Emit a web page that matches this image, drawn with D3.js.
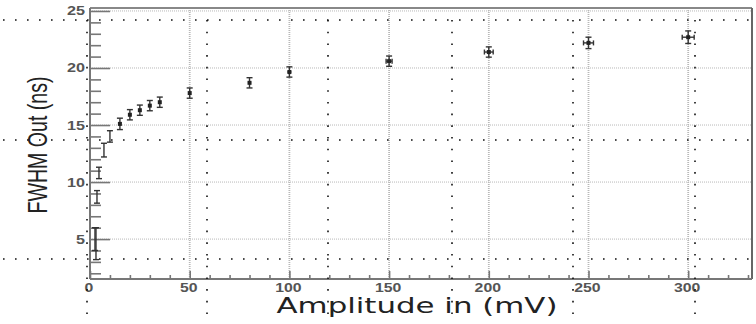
<!DOCTYPE html>
<html>
<head>
<meta charset="utf-8">
<script src="https://cdn.jsdelivr.net/npm/d3@7"></script>
<style>
  html, body { margin: 0; padding: 0; background: #fff; }
  svg { display: block; }
</style>
</head>
<body>
<svg id="chart" width="756" height="324"></svg>
<script>
// FWHM of the output pulse versus input amplitude
const amplitude  = [2.5, 3, 3.5, 4.5, 7, 10, 15, 20, 25, 30, 35, 50, 80, 100, 150, 200, 250, 300];
const fwhm       = [5.0, 4.6, 8.7, 10.8, 12.8, 14.0, 15.1, 15.9, 16.3, 16.7, 17.0, 17.8, 18.7, 19.65, 20.6, 21.4, 22.2, 22.7];
const fwhmErr    = [1.0, 1.4, 0.55, 0.5, 0.6, 0.5, 0.5, 0.45, 0.45, 0.45, 0.45, 0.45, 0.45, 0.45, 0.45, 0.45, 0.5, 0.55];
const amplitudeErr = [0, 0, 0, 0, 0, 0, 0, 0, 0, 0, 0, 0.5, 0.8, 1, 1.5, 2.2, 2.5, 3];
const xMajorTicks = [0, 50, 100, 150, 200, 250, 300];
const yMajorTicks = [5, 10, 15, 20, 25];
const xTitle = "Amplitude in (mV)";
const yTitle = "FWHM Out (ns)";

const svg = d3.select("#chart");
const W = 756, H = 324;

const x = d3.scaleLinear().domain([0, 332]).range([90, 752]);
const y = d3.scaleLinear().domain([1.5, 25.26]).range([279, 8]);

const [x0, x1] = x.range();
const [y0, y1] = y.range();

svg.append("rect").attr("width", W).attr("height", H).attr("fill", "#fff");

// dotted grid at the major ticks
const grid = svg.append("g");
grid.selectAll("line.gx").data(xMajorTicks.filter(d => d > 0)).join("line")
  .attr("class", "gx")
  .attr("x1", d => x(d)).attr("x2", d => x(d))
  .attr("y1", y0).attr("y2", y1)
  .attr("stroke", "#b8b8b8").attr("stroke-width", 1.8)
  .attr("stroke-dasharray", "1 1");
grid.selectAll("line.gy").data(yMajorTicks).join("line")
  .attr("class", "gy")
  .attr("x1", x0).attr("x2", x1)
  .attr("y1", d => y(d)).attr("y2", d => y(d))
  .attr("stroke", "#b8b8b8").attr("stroke-width", 1)
  .attr("stroke-dasharray", "1 1");

// axes: ROOT-style inward ticks drawn with d3 axis generators
const yMinor = d3.range(2, 26).filter(v => v % 5 !== 0);
const xMinor = d3.range(10, 331, 10).filter(v => v % 50 !== 0);

const axisG = svg.append("g");
axisG.append("g").attr("transform", `translate(${x0},0)`)
  .call(d3.axisRight(y).tickValues(yMinor).tickSize(11).tickFormat(""))
  .call(g => g.select(".domain").remove())
  .call(g => g.selectAll("line").attr("stroke", "#777").attr("stroke-width", 1.6));
axisG.append("g").attr("transform", `translate(${x0},0)`)
  .call(d3.axisRight(y).tickValues(yMajorTicks).tickSize(20).tickFormat(""))
  .call(g => g.select(".domain").remove())
  .call(g => g.selectAll("line").attr("stroke", "#777").attr("stroke-width", 1.6));
axisG.append("g").attr("transform", `translate(0,${y0})`)
  .call(d3.axisTop(x).tickValues(xMinor).tickSize(4).tickFormat(""))
  .call(g => g.select(".domain").remove())
  .call(g => g.selectAll("line").attr("stroke", "#777").attr("stroke-width", 1.6));
axisG.append("g").attr("transform", `translate(0,${y0})`)
  .call(d3.axisTop(x).tickValues(xMajorTicks).tickSize(8).tickFormat(""))
  .call(g => g.select(".domain").remove())
  .call(g => g.selectAll("line").attr("stroke", "#777").attr("stroke-width", 1.6));

// frame
svg.append("line").attr("x1", x0).attr("x2", x1).attr("y1", y1).attr("y2", y1)
  .attr("stroke", "#888").attr("stroke-width", 2);
svg.append("line").attr("x1", x1).attr("x2", x1).attr("y1", y1).attr("y2", y0)
  .attr("stroke", "#666").attr("stroke-width", 2);
svg.append("line").attr("x1", x0).attr("x2", x0).attr("y1", y1).attr("y2", y0)
  .attr("stroke", "#777").attr("stroke-width", 2);
svg.append("line").attr("x1", x0).attr("x2", x1).attr("y1", y0).attr("y2", y0)
  .attr("stroke", "#777").attr("stroke-width", 2);

// tick labels
const labFont = "'Liberation Sans', Arial, sans-serif";
svg.append("g").selectAll("text").data(yMajorTicks).join("text")
  .attr("x", 85).attr("y", d => y(d) + 4.5)
  .attr("text-anchor", "end")
  .attr("font-family", labFont).attr("font-weight", "bold").attr("font-size", 12)
  .attr("fill", "#555")
  .attr("textLength", d => String(d).length * 9)
  .attr("lengthAdjust", "spacingAndGlyphs")
  .text(d => d);
svg.append("g").selectAll("text").data(xMajorTicks).join("text")
  .attr("x", d => x(d) - 1).attr("y", 292)
  .attr("text-anchor", "middle")
  .attr("font-family", labFont).attr("font-weight", "bold").attr("font-size", 12)
  .attr("fill", "#555")
  .attr("textLength", d => String(d).length * 8.8)
  .attr("lengthAdjust", "spacingAndGlyphs")
  .text(d => d);

// axis titles
svg.append("text")
  .attr("x", 417).attr("y", 313)
  .attr("text-anchor", "middle")
  .attr("font-family", "'DejaVu Sans', Verdana, sans-serif").attr("font-size", 21)
  .attr("fill", "#222")
  .attr("textLength", 281).attr("lengthAdjust", "spacingAndGlyphs")
  .text(xTitle);
svg.append("text")
  .attr("transform", "translate(47,145) rotate(-90)")
  .attr("text-anchor", "middle")
  .attr("font-family", labFont).attr("font-size", 28)
  .attr("fill", "#222")
  .attr("textLength", 137).attr("lengthAdjust", "spacingAndGlyphs")
  .text(yTitle);

// data points with error bars
const pts = amplitude.map((a, i) => ({ a, v: fwhm[i], ev: fwhmErr[i], ea: amplitudeErr[i], i }));
const marks = svg.append("g").attr("stroke", "#333").attr("stroke-width", 1.4).attr("fill", "none");
const cap = 3;
pts.forEach(p => {
  const cx = x(p.a), cy = y(p.v);
  const yt = y(p.v + p.ev), yb = y(p.v - p.ev);
  marks.append("line").attr("x1", cx).attr("x2", cx).attr("y1", yt).attr("y2", yb);
  marks.append("line").attr("x1", cx - cap).attr("x2", cx + cap).attr("y1", yt).attr("y2", yt);
  marks.append("line").attr("x1", cx - cap).attr("x2", cx + cap).attr("y1", yb).attr("y2", yb);
  if (p.ea > 0) {
    const xl = x(p.a - p.ea), xr = x(p.a + p.ea);
    marks.append("line").attr("x1", xl).attr("x2", xr).attr("y1", cy).attr("y2", cy);
    if (xr - xl > 5) {
      marks.append("line").attr("x1", xl).attr("x2", xl).attr("y1", cy - 2.5).attr("y2", cy + 2.5);
      marks.append("line").attr("x1", xr).attr("x2", xr).attr("y1", cy - 2.5).attr("y2", cy + 2.5);
    }
  }
  if (p.a >= 15) {
    svg.append("rect").attr("x", cx - 2).attr("y", cy - 2).attr("width", 4).attr("height", 4)
      .attr("fill", "#222");
  }
});

// black dotted guide lines across the whole figure
const guides = svg.append("g").attr("stroke", "#111").attr("stroke-width", 1.6);
[20, 140, 259].forEach(gy => {
  guides.append("line").attr("x1", 3).attr("x2", W).attr("y1", gy).attr("y2", gy)
    .attr("stroke-dasharray", "1.6 10.4");
});
[87, 207, 328, 452, 573, 695].forEach(gx => {
  guides.append("line").attr("x1", gx).attr("x2", gx).attr("y1", 20).attr("y2", H)
    .attr("stroke-dasharray", "1.6 10.1");
});
</script>
</body>
</html>
